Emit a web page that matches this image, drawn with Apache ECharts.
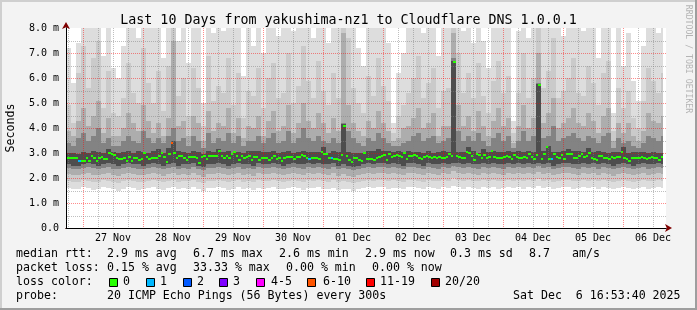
<!DOCTYPE html>
<html><head><meta charset="utf-8">
<script src="https://cdn.jsdelivr.net/npm/echarts@6/dist/echarts.min.js"></script>
<style>html,body{margin:0;padding:0;background:#f3f3f3}#c{width:697px;height:310px}</style>
</head><body><div id="c"></div><script>
// ---------- data (milliseconds) ----------
const X_LABELS = ['27 Nov','28 Nov','29 Nov','30 Nov','01 Dec','02 Dec','03 Dec','04 Dec','05 Dec','06 Dec'];
const Y_LABELS = ['0.0','1.0 m','2.0 m','3.0 m','4.0 m','5.0 m','6.0 m','7.0 m','8.0 m'];
// hourly median rtt, first bin starts Nov 26 17:00
const MEDIAN = [
2.79,2.79,2.79,2.79,2.81,2.69,2.69,2.69,2.81,2.69,
2.89,2.79,2.69,2.79,2.85,2.75,2.75,3.01,2.97,2.92,
2.81,2.77,2.77,2.81,2.69,2.83,2.69,2.81,2.81,2.73,
2.77,3.01,2.85,2.76,2.81,2.81,2.81,2.89,2.99,2.85,
2.65,2.95,3.40,2.99,2.81,2.89,2.89,2.81,2.72,2.84,
2.84,2.84,2.79,2.61,2.83,2.89,2.76,2.89,2.88,2.88,
2.89,3.08,2.89,2.79,2.88,2.79,2.95,3.05,2.89,2.72,
2.88,2.79,2.84,2.88,2.72,2.84,2.84,2.73,2.81,2.81,
2.81,2.73,2.81,2.88,2.76,2.81,2.68,2.81,2.84,2.84,
2.84,2.76,2.84,2.84,2.92,2.88,2.81,2.76,2.81,2.81,
2.81,2.76,3.04,2.97,2.97,2.81,2.79,2.76,2.76,2.72,
2.92,4.09,2.89,2.72,2.65,2.81,2.81,2.72,2.68,2.99,
2.76,2.76,2.76,2.72,2.79,2.85,2.89,2.92,2.72,2.97,
2.85,2.89,2.92,2.89,2.85,2.99,2.76,2.89,2.89,2.92,
2.89,2.79,2.75,2.84,2.88,2.85,2.79,2.84,2.79,2.84,
2.79,2.79,2.85,2.95,2.89,6.65,2.88,2.85,2.81,2.81,
3.05,3.01,2.89,2.72,2.95,2.92,2.79,2.92,2.81,2.85,
3.08,2.84,2.79,2.81,2.81,2.85,2.88,2.85,2.76,2.92,
2.84,2.81,2.81,2.84,2.81,2.97,2.84,2.76,2.92,5.72,
2.76,2.97,3.24,2.76,2.76,2.97,2.84,2.81,2.92,2.76,
2.97,2.97,2.97,2.81,2.81,2.89,2.95,2.84,2.89,3.00,
2.81,2.75,2.72,2.89,2.89,2.81,2.79,2.75,2.84,2.79,
2.85,2.85,3.05,2.81,2.75,2.68,2.81,2.81,2.81,2.79,
2.84,2.79,2.76,2.81,2.85,2.81,2.79,2.72,2.84
];
// hours with packet loss, and lost pings (of 20)
const LOSS_HOUR = [5, 42, 97, 106, 194];
const LOSS_COUNT = [1, 7, 1, 1, 1];
// smoke, two-hour columns: band bottoms (LO) and tops (HI), outer band 1 -> inner band 5
const HI1 = [
7.2,5.8,7.4,8.4,8.4,8.4,8.4,6.9,8.4,6.4, 6.0,7.3,8.4,8.4,7.6,8.4,8.4,8.4,8.4,6.8,
8.4,8.4,7.5,8.4,6.6,8.4,8.4,5.0,8.4,7.8, 8.4,7.9,8.4,8.4,8.4,6.1,8.4,7.3,8.4,7.0,
8.4,8.4,7.7,8.4,8.4,7.9,8.4,8.4,8.4,7.6, 8.4,8.4,7.4,8.4,8.4,8.4,8.4,8.4,7.2,6.5,
8.4,8.4,8.4,8.4,7.4,4.2,6.2,7.0,8.4,8.4, 8.4,7.8,8.4,8.4,6.9,8.4,8.4,8.4,8.4,7.9,
8.4,7.4,8.4,7.5,6.4,8.4,8.4,8.4,8.4,4.3, 7.9,8.4,7.6,8.4,8.4,8.4,8.4,8.4,8.4,7.7,
8.4,8.4,8.4,7.9,8.4,8.4,6.8,8.4,8.4,4.6, 8.4,6.5,7.8,5.9,5.1,7.3,8.4,8.4,7.8,8.4];
const HI2 = [
4.9,4.2,6.2,7.3,5.6,6.8,7.5,4.8,6.3,4.6, 4.5,5.2,6.6,5.4,5.0,7.2,5.8,5.0,6.3,4.7,
6.5,8.2,5.3,6.0,4.5,6.4,5.6,4.1,6.9,5.1, 5.7,5.4,6.8,4.9,6.2,4.4,5.5,5.3,6.4,4.8,
6.0,6.6,5.2,5.4,7.0,5.0,5.7,7.3,5.9,5.2, 6.7,5.5,4.9,6.2,5.2,8.2,7.6,5.6,5.0,4.6,
6.1,5.3,6.8,5.7,5.1,3.8,4.5,4.9,5.4,6.0, 6.9,5.2,5.8,6.4,4.8,5.5,5.6,8.3,7.0,5.4,
6.2,5.2,6.6,5.3,4.6,5.9,6.7,5.4,6.1,3.8, 5.4,7.0,5.2,6.0,8.3,5.6,6.3,7.6,5.2,5.5,
6.0,6.8,5.4,5.3,6.5,5.8,4.9,6.2,6.7,3.9, 5.6,4.8,5.5,4.4,4.0,5.1,6.4,5.9,5.4,6.2];
const HI3 = [
3.9,3.7,4.3,4.8,4.1,4.5,5.1,3.8,4.4,3.7, 3.7,4.0,4.6,4.2,3.9,4.9,4.3,3.8,4.2,3.7,
4.4,7.5,4.1,4.3,3.7,4.5,4.2,3.5,4.7,3.9, 4.2,4.1,4.8,3.8,4.4,3.6,4.1,4.0,4.5,3.7,
4.3,4.7,3.9,4.1,4.9,3.8,4.2,5.0,4.3,4.0, 4.6,4.2,3.8,4.4,3.9,7.8,4.9,4.2,3.9,3.7,
4.3,4.0,4.7,4.2,3.9,3.5,3.6,4.0,4.1,4.4, 4.8,4.0,4.2,4.6,3.7,4.1,4.1,7.8,4.9,4.1,
4.5,3.9,4.7,4.1,3.7,4.3,4.8,4.1,4.4,3.4, 4.1,4.9,4.0,4.4,7.0,4.2,4.6,5.2,4.0,4.2,
4.4,4.8,4.2,4.1,4.6,4.3,3.8,4.5,4.8,3.5, 4.2,3.8,4.2,3.7,3.5,3.9,4.6,4.3,4.2,4.5];
const HI4 = [
3.4,3.3,3.6,3.8,3.5,3.7,4.0,3.4,3.6,3.3, 3.3,3.5,3.7,3.5,3.4,3.9,3.6,3.4,3.6,3.4,
3.7,4.0,3.5,3.6,3.3,3.7,3.5,3.2,3.8,3.4, 3.6,3.5,3.8,3.4,3.7,3.3,3.5,3.5,3.7,3.4,
3.6,3.8,3.4,3.5,3.9,3.4,3.6,4.0,3.6,3.5, 3.7,3.5,3.4,3.6,3.4,4.2,3.9,3.6,3.4,3.3,
3.6,3.5,3.8,3.6,3.4,3.3,3.3,3.4,3.5,3.7, 3.8,3.5,3.6,3.7,3.4,3.5,3.6,6.8,3.9,3.5,
3.7,3.5,3.8,3.5,3.3,3.6,3.8,3.5,3.7,3.2, 3.5,3.9,3.5,3.7,5.8,3.6,3.7,4.1,3.5,3.6,
3.7,3.8,3.6,3.5,3.7,3.6,3.4,3.7,3.8,3.2, 3.6,3.4,3.5,3.3,3.2,3.4,3.7,3.6,3.5,3.7];
const HI5 = [
3.0,3.0,2.95,3.05,3.0,3.1,3.05,3.0,3.15,3.05, 3.0,3.05,3.1,3.0,3.1,3.05,3.0,3.1,3.15,3.0,
3.2,3.5,3.1,3.05,3.0,3.1,3.05,2.95,3.1,3.05, 3.15,3.05,3.1,3.0,3.05,3.0,3.1,3.1,3.1,3.05,
3.05,3.1,3.0,3.05,3.1,3.0,3.05,3.1,3.05,3.05, 3.05,3.25,3.0,3.1,3.05,4.15,3.05,3.0,3.0,3.0,
3.1,3.1,3.15,3.1,3.1,3.05,3.1,3.05,3.1,3.05, 3.05,3.0,3.1,3.0,3.05,3.1,3.05,6.7,3.05,3.05,
3.25,3.1,3.0,3.15,3.05,3.1,3.05,3.05,3.1,3.05, 3.1,3.05,3.1,3.05,5.75,3.1,3.3,3.05,3.05,3.1,
3.15,3.1,3.1,3.05,3.2,3.05,3.1,3.05,3.0,3.05, 3.05,3.25,3.0,3.05,3.05,3.05,3.0,3.05,3.0,3.0];
const LO1 = [
1.62,1.55,1.58,1.66,1.6,1.52,1.57,1.64,1.6,1.55, 1.5,1.58,1.63,1.6,1.54,1.57,1.62,1.66,1.58,1.52,
1.6,1.65,1.56,1.6,1.58,1.63,1.55,1.5,1.6,1.62, 1.66,1.6,1.54,1.58,1.64,1.57,1.6,1.52,1.62,1.58,
1.6,1.66,1.58,1.55,1.6,1.64,1.6,1.54,1.62,1.6, 1.64,1.58,1.55,1.62,1.52,1.58,1.55,1.5,1.56,1.6,
1.66,1.6,1.64,1.66,1.58,1.62,1.6,1.56,1.64,1.66, 1.6,1.55,1.64,1.6,1.58,1.64,1.6,1.7,1.64,1.58,
1.64,1.6,1.58,1.64,1.6,1.66,1.58,1.6,1.64,1.6, 1.66,1.58,1.64,1.6,1.68,1.6,1.64,1.55,1.6,1.66,
1.64,1.58,1.6,1.66,1.6,1.64,1.58,1.66,1.6,1.55, 1.6,1.66,1.6,1.55,1.6,1.66,1.58,1.6,1.64,1.6];
const LO2 = [
1.9,1.85,1.86,1.92,1.9,1.84,1.86,1.92,1.9,1.84, 1.82,1.88,1.92,1.9,1.84,1.86,1.9,1.94,1.88,1.84,
1.9,1.94,1.85,1.9,1.88,1.92,1.84,1.8,1.9,1.9, 1.94,1.9,1.84,1.88,1.92,1.86,1.9,1.84,1.92,1.88,
1.9,1.94,1.88,1.85,1.9,1.92,1.9,1.84,1.92,1.9, 1.92,1.88,1.85,1.92,1.84,1.9,1.84,1.8,1.86,1.9,
1.94,1.9,1.92,1.94,1.88,1.92,1.9,1.86,1.92,1.94, 1.9,1.85,1.92,1.9,1.88,1.92,1.9,2.0,1.92,1.88,
1.92,1.9,1.88,1.92,1.9,1.94,1.88,1.9,1.92,1.9, 1.94,1.88,1.92,1.9,1.96,1.9,1.92,1.85,1.9,1.94,
1.92,1.88,1.9,1.94,1.9,1.92,1.88,1.94,1.9,1.85, 1.9,1.94,1.9,1.85,1.9,1.94,1.88,1.9,1.92,1.9];
const LO3 = [
2.16,2.12,2.14,2.18,2.2,2.14,2.12,2.18,2.2,2.12, 2.1,2.16,2.2,2.16,2.12,2.12,2.18,2.2,2.16,2.1,
2.16,2.2,2.12,2.16,2.14,2.2,2.12,2.06,2.16,2.16, 2.2,2.16,2.12,2.16,2.2,2.12,2.16,2.1,2.2,2.16,
2.16,2.2,2.16,2.12,2.16,2.2,2.16,2.12,2.2,2.16, 2.2,2.16,2.12,2.2,2.1,2.16,2.1,2.06,2.12,2.16,
2.2,2.16,2.2,2.2,2.16,2.2,2.16,2.12,2.2,2.2, 2.16,2.12,2.2,2.16,2.14,2.2,2.16,2.3,2.2,2.16,
2.2,2.16,2.14,2.2,2.16,2.2,2.16,2.14,2.2,2.16, 2.2,2.16,2.2,2.16,2.24,2.16,2.2,2.12,2.16,2.2,
2.2,2.16,2.14,2.2,2.16,2.2,2.14,2.2,2.16,2.1, 2.16,2.2,2.16,2.12,2.16,2.2,2.14,2.16,2.2,2.16];
const LO4 = [
2.4,2.36,2.38,2.42,2.44,2.4,2.36,2.42,2.44,2.36, 2.36,2.4,2.44,2.4,2.38,2.36,2.42,2.44,2.4,2.36,
2.4,2.45,2.36,2.4,2.38,2.44,2.36,2.32,2.4,2.4, 2.44,2.4,2.38,2.4,2.44,2.36,2.4,2.36,2.44,2.4,
2.4,2.44,2.4,2.36,2.4,2.44,2.4,2.38,2.44,2.4, 2.44,2.4,2.36,2.44,2.36,2.4,2.36,2.32,2.38,2.4,
2.44,2.4,2.44,2.44,2.4,2.44,2.4,2.36,2.44,2.44, 2.4,2.36,2.44,2.4,2.38,2.44,2.4,2.5,2.44,2.4,
2.44,2.4,2.38,2.44,2.4,2.44,2.4,2.38,2.44,2.4, 2.44,2.4,2.44,2.4,2.48,2.4,2.44,2.36,2.4,2.44,
2.44,2.4,2.38,2.44,2.4,2.44,2.38,2.44,2.4,2.36, 2.4,2.44,2.4,2.36,2.4,2.44,2.38,2.4,2.44,2.4];
const LO5 = [
2.55,2.5,2.5,2.55,2.6,2.55,2.5,2.55,2.6,2.55, 2.5,2.55,2.6,2.55,2.55,2.5,2.55,2.6,2.55,2.5,
2.55,2.6,2.5,2.55,2.55,2.6,2.5,2.45,2.55,2.55, 2.6,2.55,2.5,2.55,2.6,2.55,2.55,2.5,2.6,2.55,
2.55,2.6,2.55,2.5,2.55,2.6,2.55,2.55,2.6,2.55, 2.6,2.55,2.55,2.6,2.5,2.55,2.5,2.45,2.5,2.55,
2.6,2.55,2.6,2.6,2.55,2.6,2.55,2.5,2.6,2.6, 2.55,2.5,2.6,2.55,2.55,2.6,2.55,2.6,2.6,2.55,
2.6,2.55,2.55,2.6,2.55,2.6,2.55,2.55,2.6,2.55, 2.6,2.55,2.6,2.55,2.6,2.55,2.6,2.5,2.55,2.6,
2.6,2.55,2.55,2.6,2.55,2.6,2.55,2.6,2.55,2.5, 2.55,2.6,2.55,2.5,2.55,2.6,2.55,2.55,2.6,2.55];

// ---------- chart ----------
const HOUR = 3600e3, DAY = 24 * HOUR;
const BIN0 = new Date(2025, 10, 26, 17, 0).getTime();
const X_MIN = new Date(2025, 10, 26, 17, 12).getTime();
const X_MAX = X_MIN + 10 * DAY;
const FIRST_DAY = new Date(2025, 10, 27, 0, 0).getTime();
const DATA_END = BIN0 + MEDIAN.length * HOUR;
const BAND_COLORS = ['#dddddd', '#cacaca', '#adadad', '#838383', '#4d4d4d'];
const LOSS_COLORS = [[0,'#26ff00'],[1,'#00b8ff'],[2,'#0059ff'],[3,'#7e00ff'],[5,'#ff00ff'],[10,'#ff5500'],[19,'#ff0000'],[20,'#a10000']];
const MONO = '"DejaVu Sans Mono", monospace';
const MAJOR_COLOR = 'rgba(255,0,0,0.45)', MINOR_COLOR = 'rgba(128,128,128,0.5)';

function lossColor(n) { for (const [lim, c] of LOSS_COLORS) if (n <= lim) return c; return '#a10000'; }

const smokeData = HI1.map((_, k) => [BIN0 + 2 * HOUR * k,
  LO1[k], HI1[k], LO2[k], HI2[k], LO3[k], HI3[k], LO4[k], HI4[k], LO5[k], HI5[k]]);
const medianData = MEDIAN.map((v, j) => {
  const i = LOSS_HOUR.indexOf(j);
  return [BIN0 + HOUR * j, v, i >= 0 ? LOSS_COUNT[i] : 0];
});
// vertical grid: midnight lines (major) and 6-hour lines (minor)
const vGridData = [];
for (let q = 1; q < 44; q++) {
  const t = FIRST_DAY - DAY + q * 6 * HOUR;
  if (t > X_MIN && t < X_MAX) vGridData.push([t, q % 4 === 0 ? 1 : 0]);
}
// horizontal grid: every 0.5 ms, whole ms are major
const hGridData = [];
for (let q = 1; q < 16; q++) hGridData.push([q / 2, q % 2 === 0 ? 1 : 0]);
const xLabelData = X_LABELS.map((_, i) => [FIRST_DAY + i * DAY + 12 * HOUR, i]);

function clip(shape, cs) {
  return echarts.graphic.clipRectByRect(shape, {x: cs.x, y: cs.y, width: cs.width, height: cs.height});
}
function renderSmoke(params, api) {
  const t = api.value(0);
  const tEnd = Math.min(t + 2 * HOUR, DATA_END);
  const x0 = Math.round(api.coord([t, 0])[0]), x1 = Math.round(api.coord([tEnd, 0])[0]);
  const children = [];
  for (let b = 0; b < 5; b++) {
    const lo = api.value(1 + 2 * b), hi = api.value(2 + 2 * b);
    const yT = Math.round(api.coord([t, hi])[1]), yB = Math.round(api.coord([t, lo])[1]);
    const s = clip({x: x0, y: yT, width: x1 - x0, height: yB - yT}, params.coordSys);
    if (s) children.push({type: 'rect', shape: s, style: {fill: BAND_COLORS[b]}});
  }
  return {type: 'group', children};
}
function renderMedian(params, api) {
  const t = api.value(0), v = api.value(1), n = api.value(2);
  const x0 = Math.round(api.coord([t, v])[0]), x1 = Math.round(api.coord([t + HOUR, v])[0]);
  const yc = api.coord([t, v])[1];
  const s = clip({x: x0, y: Math.round(yc - 1), width: x1 - x0, height: 2}, params.coordSys);
  return s ? {type: 'rect', shape: s, style: {fill: lossColor(n)}} : null;
}
function dots(x0, y0, x1, y1, color) {
  // 1-px dots every 2 px, like rrdtool's dotted grid
  const children = [];
  if (x0 === x1) {
    for (let y = Math.min(y0, y1); y < Math.max(y0, y1); y += 2)
      children.push({type: 'rect', shape: {x: x0, y, width: 1, height: 1}, style: {fill: color}});
  } else {
    for (let x = Math.min(x0, x1) + 1; x < Math.max(x0, x1); x += 2)
      children.push({type: 'rect', shape: {x, y: y0, width: 1, height: 1}, style: {fill: color}});
  }
  return children;
}
function renderVGrid(params, api) {
  const t = api.value(0), major = api.value(1) === 1;
  const p0 = api.coord([t, 0]), p1 = api.coord([t, 8]);
  return {type: 'group',
    children: dots(Math.round(p0[0]), Math.round(p1[1]), Math.round(p0[0]), Math.round(p0[1]), major ? MAJOR_COLOR : MINOR_COLOR)};
}
function renderHGrid(params, api) {
  const v = api.value(0), major = api.value(1) === 1;
  const p0 = api.coord([X_MIN, v]), p1 = api.coord([X_MAX, v]);
  const y = Math.round(p0[1]);
  return {type: 'group', children: dots(Math.round(p0[0]), y, Math.round(p1[0]), y, major ? MAJOR_COLOR : MINOR_COLOR)};
}
function renderXLabel(params, api) {
  const p = api.coord([api.value(0), 0]);
  return {type: 'text', x: p[0], y: p[1] + 5,
    style: {text: X_LABELS[api.value(1)], font: '10px ' + MONO, fill: '#000', align: 'center', verticalAlign: 'top'}};
}

const txt = (x, y, text) => ({type: 'text', x, y, z: 100,
  style: {text, font: '11.6px ' + MONO, fill: '#000', align: 'left', verticalAlign: 'middle'}});
const box = (x, c) => ({type: 'rect', z: 100, shape: {x: x + 0.5, y: 278.5, width: 8, height: 8},
  style: {fill: c, stroke: '#000', lineWidth: 1}});

const legendItems = [
  txt(16, 254, 'median rtt:'), txt(107, 254, '2.9 ms avg'), txt(193, 254, '6.7 ms max'),
  txt(279, 254, '2.6 ms min'), txt(365, 254, '2.9 ms now'), txt(450, 254, '0.3 ms sd'),
  txt(529, 254, '8.7'), txt(572, 254, 'am/s'),
  txt(16, 268, 'packet loss:'), txt(107, 268, '0.15 % avg'), txt(193, 268, '33.33 % max'),
  txt(286, 268, '0.00 % min'), txt(372, 268, '0.00 % now'),
  txt(16, 282, 'loss color:'),
  box(109, '#26ff00'), txt(123, 282, '0'),
  box(146, '#00b8ff'), txt(160, 282, '1'),
  box(183, '#0059ff'), txt(197, 282, '2'),
  box(219, '#7e00ff'), txt(233, 282, '3'),
  box(256, '#ff00ff'), txt(271, 282, '4-5'),
  box(307, '#ff5500'), txt(323, 282, '6-10'),
  box(366, '#ff0000'), txt(380, 282, '11-19'),
  box(431, '#a10000'), txt(445, 282, '20/20'),
  txt(16, 296, 'probe:'), txt(107, 296, '20 ICMP Echo Pings (56 Bytes) every 300s'),
  txt(513, 296, 'Sat Dec  6 16:53:40 2025'),
  {type: 'text', x: 688, y: 59, rotation: -Math.PI / 2, z: 100,
   style: {text: 'RRDTOOL / TOBI OETIKER', font: '8.2px ' + MONO, fill: '#b4b4b4', align: 'center', verticalAlign: 'middle'}},
  {type: 'rect', z: 99, shape: {x: 0, y: 0, width: 697, height: 2}, style: {fill: '#cfcfcf'}},
  {type: 'rect', z: 99, shape: {x: 0, y: 0, width: 2, height: 310}, style: {fill: '#cfcfcf'}},
  {type: 'rect', z: 99, shape: {x: 0, y: 308, width: 697, height: 2}, style: {fill: '#9e9e9e'}},
  {type: 'rect', z: 99, shape: {x: 695, y: 0, width: 2, height: 310}, style: {fill: '#9e9e9e'}}
];

const chart = echarts.init(document.getElementById('c'), null, {renderer: 'canvas'});
chart.setOption({
  backgroundColor: '#f3f3f3',
  animation: false,
  title: {text: 'Last 10 Days from yakushima-nz1 to Cloudflare DNS 1.0.0.1', left: 'center', top: 9,
    textStyle: {fontFamily: MONO, fontSize: 13.3, fontWeight: 'normal', color: '#000'}},
  grid: {left: 66, right: 31, top: 28, bottom: 82, containLabel: false, outerBoundsMode: 'none',
    show: true, backgroundColor: '#ffffff', borderWidth: 0},
  xAxis: [{
    type: 'value', min: X_MIN, max: X_MAX, z: 5,
    axisLine: {show: true, lineStyle: {color: '#000', width: 1}},
    axisTick: {show: false}, axisLabel: {show: false}, splitLine: {show: false}
  }, {
    type: 'value', min: X_MIN, max: X_MAX, position: 'bottom', z: 4,
    axisLine: {show: true, symbol: ['none', 'arrow'], symbolSize: [6, 7], symbolOffset: [0, 6],
      lineStyle: {color: '#800000', width: 1}},
    axisTick: {show: false}, axisLabel: {show: false}, splitLine: {show: false}
  }],
  yAxis: [{
    type: 'value', min: 0, max: 8, interval: 1, z: 5,
    name: 'Seconds', nameLocation: 'middle', nameGap: 49, nameRotate: 90,
    nameTextStyle: {fontFamily: MONO, fontSize: 11.6, color: '#000'},
    axisLine: {show: true, lineStyle: {color: '#000', width: 1}},
    axisTick: {show: false},
    axisLabel: {color: '#000', fontFamily: MONO, fontSize: 10, margin: 7,
      formatter: (v) => Y_LABELS[Math.round(v)]},
    splitLine: {show: false}
  }, {
    type: 'value', min: 0, max: 8, position: 'left', z: 4,
    axisLine: {show: true, symbol: ['none', 'arrow'], symbolSize: [6, 7], symbolOffset: [0, 6],
      lineStyle: {color: '#800000', width: 1}},
    axisTick: {show: false}, axisLabel: {show: false}, splitLine: {show: false}
  }],
  series: [
    {type: 'custom', name: 'smoke', renderItem: renderSmoke, data: smokeData, z: 2, silent: true,
     encode: {x: 0, y: [1, 2]}},
    {type: 'custom', name: 'xgrid', renderItem: renderVGrid, data: vGridData, z: 3, silent: true,
     dimensions: ['t', 'major'], encode: {x: 0}},
    {type: 'custom', name: 'ygrid', renderItem: renderHGrid, data: hGridData, z: 3, silent: true,
     dimensions: ['v', 'major'], encode: {y: 0}},
    {type: 'custom', name: 'median', renderItem: renderMedian, data: medianData, z: 4, silent: true,
     encode: {x: 0, y: 1}},
    {type: 'custom', name: 'xlabels', renderItem: renderXLabel, data: xLabelData, z: 4, silent: true,
     dimensions: ['t', 'i'], encode: {x: 0}}
  ],
  graphic: legendItems
});
</script></body></html>
